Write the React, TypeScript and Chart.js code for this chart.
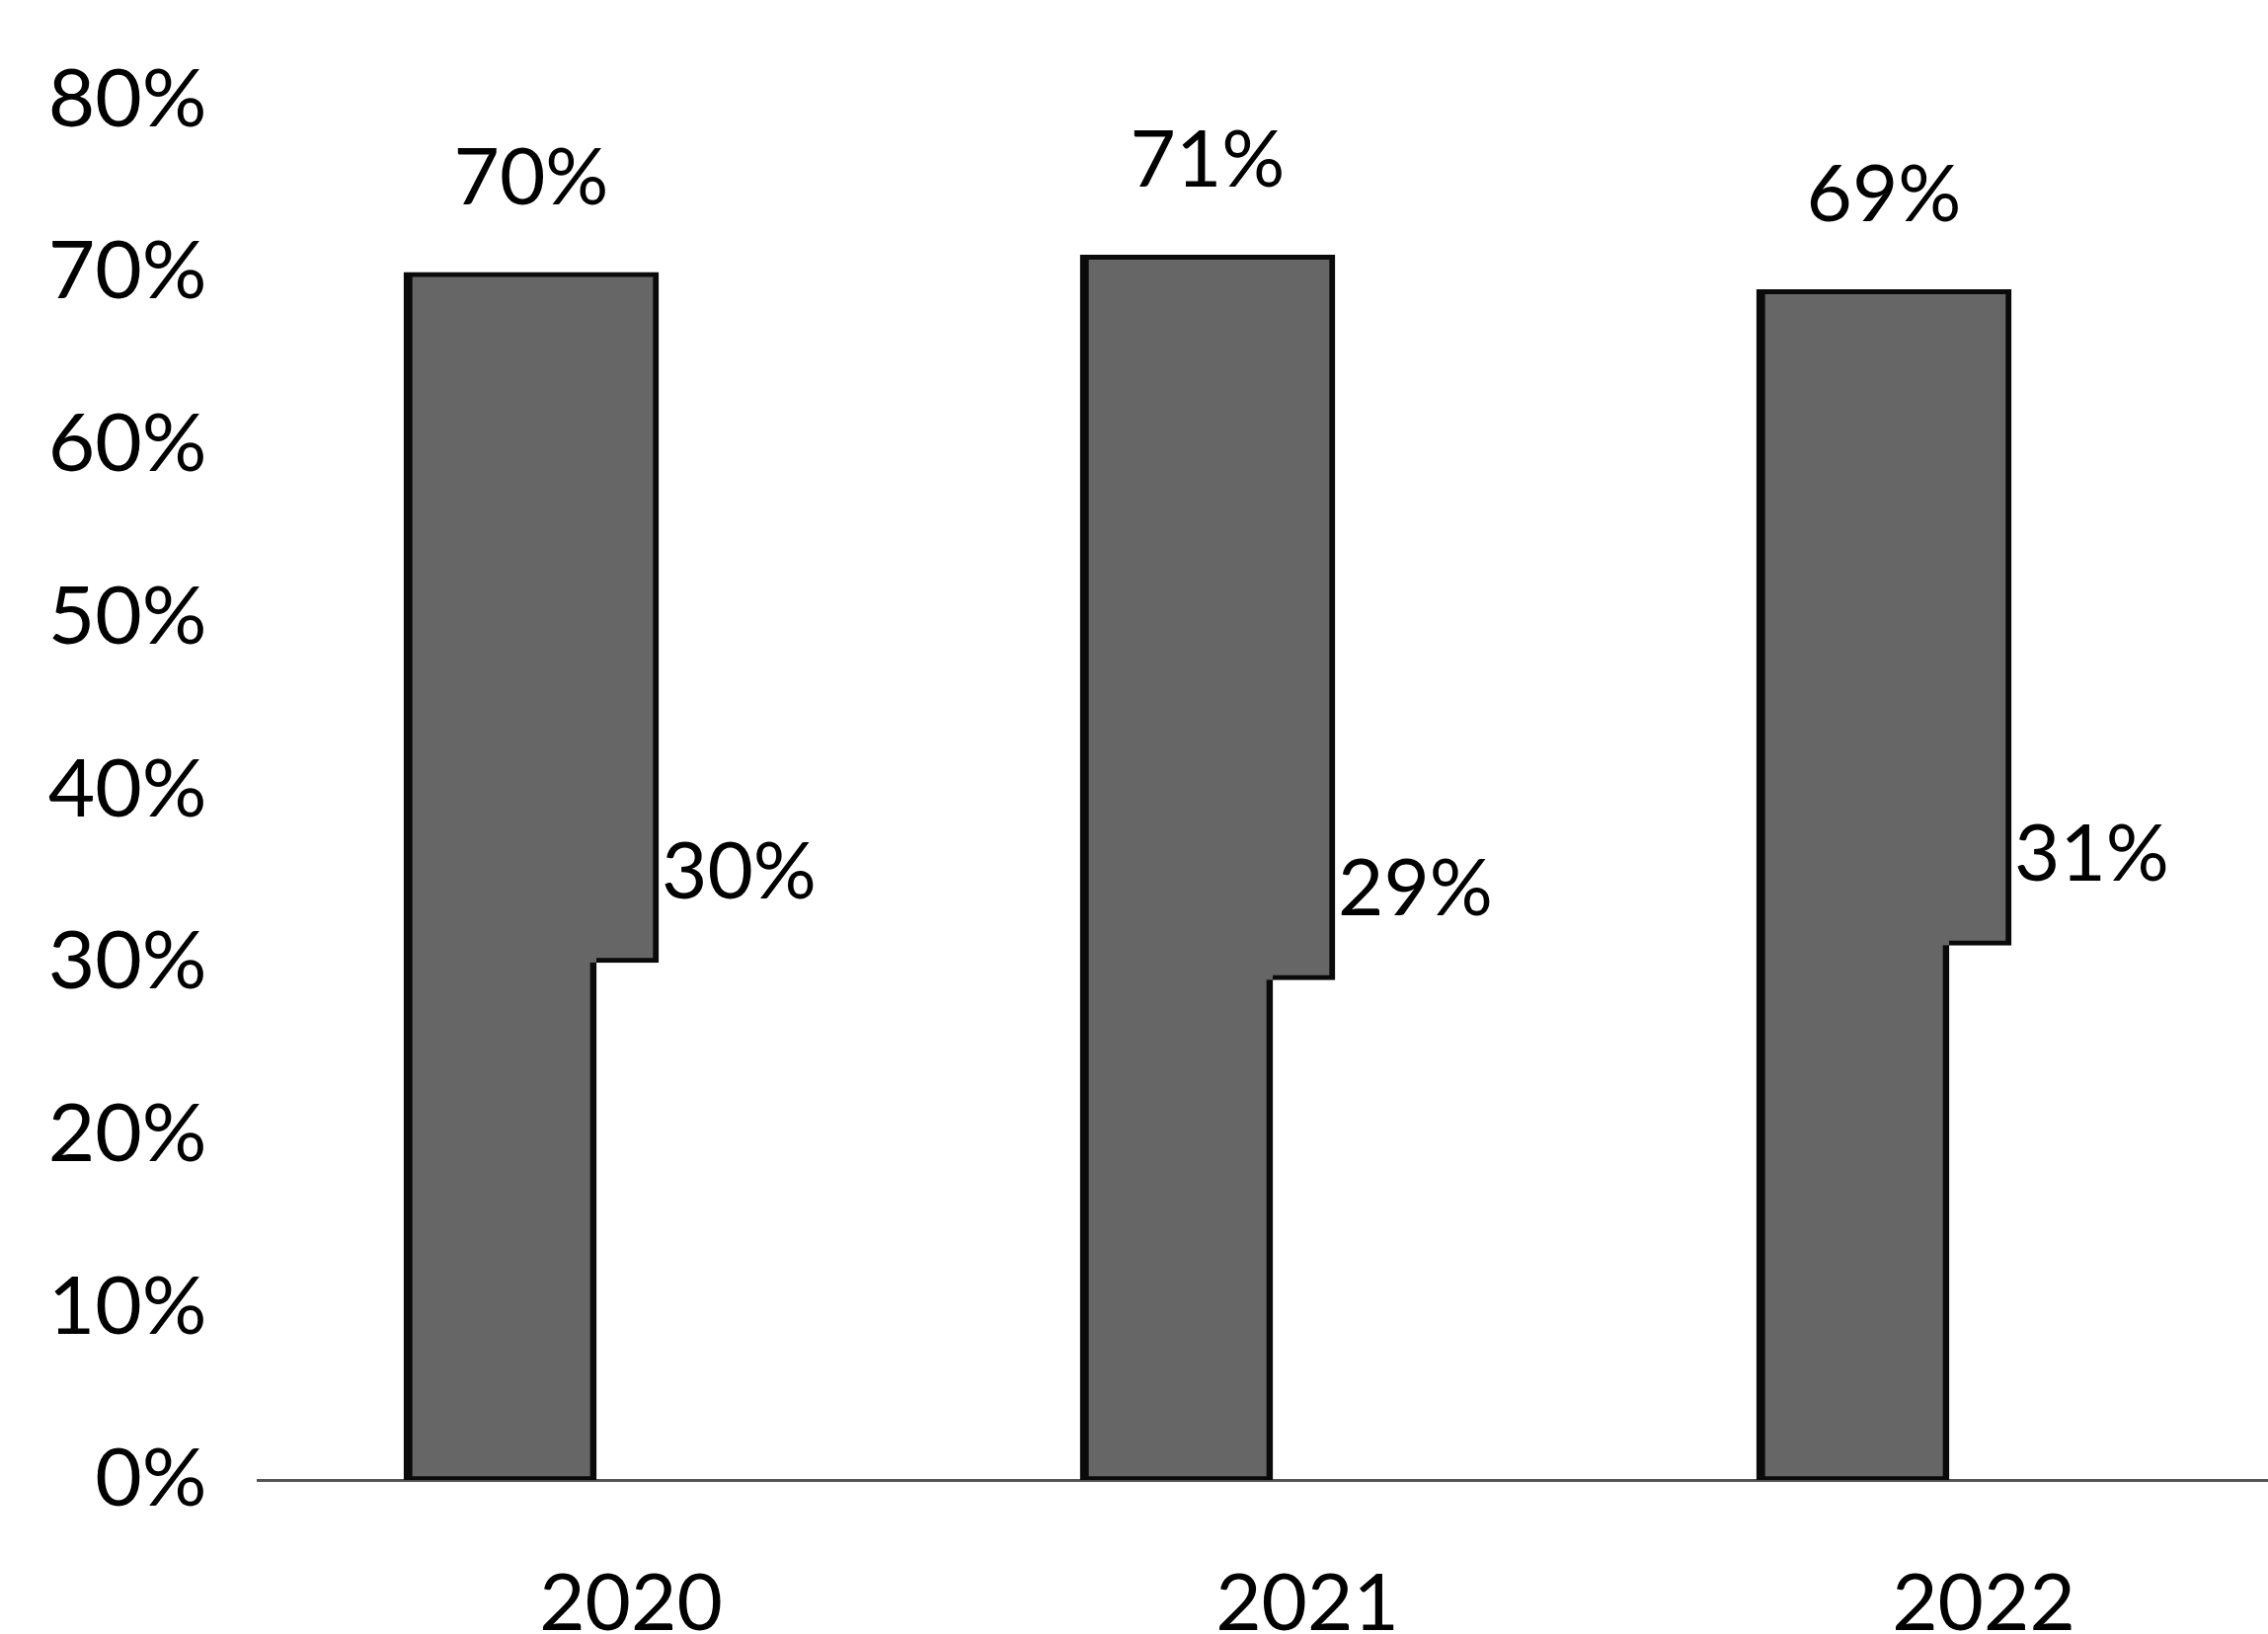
import React, { useEffect, useRef } from 'react';
import { Chart, registerables } from 'chart.js';

Chart.register(...registerables);

// ---- data ----
const years: string[] = ['2020', '2021', '2022'];
const majorShare: number[] = [70, 71, 69];
const minorShare: number[] = [30, 29, 31];
const yMin = 0;
const yMax = 80;
const yStep = 10;

// ---- styling ----
const FONT = 'Lato, "Open Sans", "Noto Sans", sans-serif';
const FILL = '#666666';
const EDGE = '#0a0a0a';
const W = 2320;
const H = 1655;

const shareLabels = {
  id: 'shareLabels',
  afterDatasetsDraw(chart: any) {
    const { ctx } = chart;
    const y = chart.scales.y;
    const full = chart.getDatasetMeta(0);
    const step = chart.getDatasetMeta(1);
    ctx.save();
    ctx.fillStyle = '#000';
    ctx.font = `80px ${FONT}`;
    ctx.textBaseline = 'middle';
    years.forEach((_, i) => {
      const a = full.data[i].getProps(['x', 'width'], true);
      const b = step.data[i].getProps(['x', 'width'], true);
      const left = a.x - a.width / 2;
      const right = b.x + b.width / 2;
      ctx.textAlign = 'center';
      ctx.fillText(`${majorShare[i]}%`, (left + right) / 2, y.getPixelForValue(majorShare[i]) - 95);
      ctx.textAlign = 'left';
      ctx.fillText(`${minorShare[i]}%`, right + 3, y.getPixelForValue(minorShare[i]) - 91);
    });
    ctx.restore();
  },
};

export default function App() {
  const ref = useRef<HTMLCanvasElement | null>(null);

  useEffect(() => {
    if (!ref.current) return;
    const chart = new Chart(ref.current, {
      type: 'bar',
      data: {
        labels: years,
        datasets: [
          {
            // full-height narrow column (0 .. major share)
            label: 'major',
            data: majorShare,
            stack: 'left',
            order: 1,
            barThickness: 195,
            backgroundColor: FILL,
            borderColor: EDGE,
            borderWidth: { left: 9, top: 5, bottom: 4, right: 0 },
            borderSkipped: false,
          },
          {
            // step that widens the column between minor and major share
            label: 'step',
            data: majorShare.map((v, i) => [minorShare[i], v]),
            stack: 'right',
            order: 1,
            barThickness: 63,
            backgroundColor: FILL,
            borderColor: EDGE,
            borderWidth: { left: 0, top: 5, right: 6, bottom: 5 },
            borderSkipped: false,
          },
          {
            // outline of the lower part (0 .. minor share), drawn on top
            label: 'minor edge',
            data: minorShare.map((v) => [0, v]),
            stack: 'left',
            order: 0,
            barThickness: 195,
            backgroundColor: 'rgba(0,0,0,0)',
            borderColor: EDGE,
            borderWidth: { left: 0, top: 0, bottom: 0, right: 6 },
            borderSkipped: false,
          },
        ] as any,
      },
      options: {
        responsive: false,
        animation: false,
        devicePixelRatio: 1,
        layout: { padding: { top: 96, right: 3.5, left: 0, bottom: 0 } },
        plugins: { legend: { display: false }, tooltip: { enabled: false } },
        scales: {
          x: {
            type: 'category',
            offset: true,
            grid: { display: false, drawTicks: false },
            border: { display: true, color: '#555555', width: 3, dash: [7, 5] },
            ticks: {
              color: '#000',
              font: { family: FONT, size: 80 },
              padding: 78,
              labelOffset: 35,
              maxRotation: 0,
              autoSkip: false,
            },
            afterFit: (s: any) => {
              s.height = 156;
            },
          },
          y: {
            stacked: false,
            min: yMin,
            max: yMax,
            grid: { display: false, drawTicks: false },
            border: { display: false },
            ticks: {
              stepSize: yStep,
              color: '#000',
              font: { family: FONT, size: 82 },
              padding: 52,
              callback: (v: any) => `${v}%`,
            },
            afterFit: (s: any) => {
              s.width = 261.5;
            },
          },
        },
      } as any,
      plugins: [shareLabels],
    });
    return () => chart.destroy();
  }, []);

  return (
    <div
      style={{
        position: 'fixed',
        left: 0,
        top: 0,
        width: 2297,
        height: 1655,
        overflow: 'hidden',
        background: '#fff',
      }}
    >
      <canvas ref={ref} width={W} height={H} style={{ width: W, height: H, display: 'block' }} />
    </div>
  );
}
